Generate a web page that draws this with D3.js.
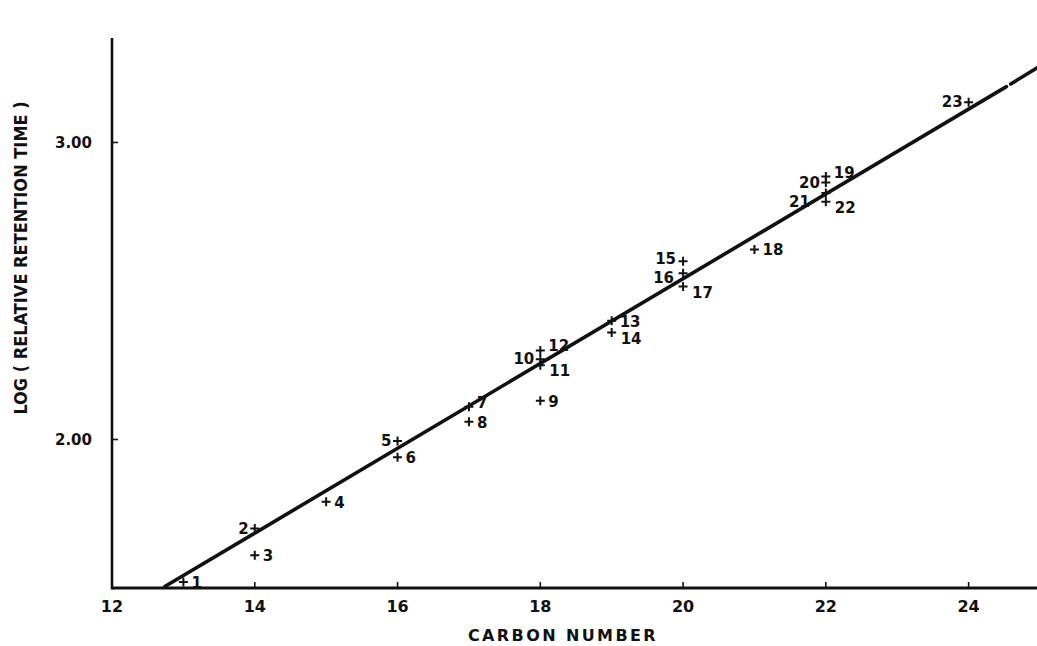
<!DOCTYPE html>
<html lang="en">
<head>
  <meta charset="UTF-8">
  <title>Log relative retention time vs carbon number</title>
  <script src="https://d3js.org/d3.v7.min.js"></script>
  <style>
    body { margin: 0; background: #fff; }
    svg { display: block; }
    .lbl { font-family: "DejaVu Sans", sans-serif; font-weight: bold; font-size: 15px; fill: #111; }
  </style>
</head>
<body>
  <svg width="1037" height="646"></svg>

  <script>
    // points
    const pointIds = [1, 2, 3, 4, 5, 6, 7, 8, 9, 10, 11, 12, 13, 14, 15, 16, 17, 18, 19, 20, 21, 22, 23];
    const carbon   = [13, 14, 14, 15, 16, 16, 17, 17, 18, 18, 18, 18, 19, 19, 20, 20, 20, 21, 22, 22, 22, 22, 24];
    const logRT    = [1.52, 1.70, 1.61, 1.79, 1.995, 1.94, 2.11, 2.06, 2.13, 2.27, 2.25, 2.30,
                      2.40, 2.36, 2.60, 2.56, 2.515, 2.64, 2.885, 2.865, 2.83, 2.80, 3.135];

    // the drawn straight line (two pieces, small break near the top)
    const lineCarbon = [[12.74, 24.53], [24.59, 25]];
    const lineLog    = [[1.505, 3.188], [3.197, 3.257]];

    const xTicks = [12, 14, 16, 18, 20, 22, 24];
    const yTicks = [2.00, 3.00];

    // where each number sits next to its cross
    const labelSide = {
      1: "r", 2: "l", 3: "r", 4: "r", 5: "l", 6: "r", 7: "ru", 8: "r", 9: "r",
      10: "l", 11: "rd", 12: "ru", 13: "r", 14: "rd", 15: "lu", 16: "ld", 17: "rd",
      18: "r", 19: "ru", 20: "l", 21: "lf", 22: "rd", 23: "l"
    };

    const svg = d3.select("svg");

    const x = d3.scaleLinear().domain([12, 25]).range([112, 1040]);
    const y = d3.scaleLinear().domain([1.5, 3.35]).range([588, 38.5]);

    const ink = "#111";

    // axes lines
    svg.append("line")
        .attr("x1", x(12)).attr("x2", 1037)
        .attr("y1", y(1.5)).attr("y2", y(1.5))
        .attr("stroke", ink).attr("stroke-width", 3);
    svg.append("line")
        .attr("x1", x(12)).attr("x2", x(12))
        .attr("y1", y(1.5) + 1.5).attr("y2", 38)
        .attr("stroke", ink).attr("stroke-width", 2.6);

    // x ticks + labels
    svg.append("g").selectAll("line")
        .data(xTicks.slice(1))
        .enter().append("line")
        .attr("x1", d => x(d)).attr("x2", d => x(d))
        .attr("y1", y(1.5)).attr("y2", y(1.5) - 6)
        .attr("stroke", ink).attr("stroke-width", 1.6);

    svg.append("g").selectAll("text")
        .data(xTicks)
        .enter().append("text")
        .attr("class", "lbl")
        .attr("x", d => x(d))
        .attr("y", 612)
        .attr("text-anchor", "middle")
        .style("font-size", "16px")
        .text(d => d);

    // y ticks + labels
    svg.append("g").selectAll("line")
        .data(yTicks)
        .enter().append("line")
        .attr("x1", x(12)).attr("x2", x(12) + 6)
        .attr("y1", d => y(d)).attr("y2", d => y(d))
        .attr("stroke", ink).attr("stroke-width", 1.6);

    svg.append("g").selectAll("text")
        .data(yTicks)
        .enter().append("text")
        .attr("class", "lbl")
        .attr("x", 92)
        .attr("y", d => y(d) + 6)
        .attr("text-anchor", "end")
        .style("font-size", "15px")
        .text(d => d3.format(".2f")(d));

    // axis titles
    svg.append("text")
        .attr("class", "lbl")
        .attr("transform", "translate(27," + 258 + ") rotate(-90)")
        .attr("text-anchor", "middle")
        .style("font-family", "'DejaVu Sans Condensed', sans-serif")
        .style("font-size", "18px")
        .text("LOG ( RELATIVE RETENTION TIME )");

    svg.append("text")
        .attr("class", "lbl")
        .attr("x", 563)
        .attr("y", 641)
        .attr("text-anchor", "middle")
        .style("font-size", "16px")
        .style("letter-spacing", "2.4px")
        .text("CARBON  NUMBER");

    // fitted line
    const lineGen = d3.line().x(d => x(d[0])).y(d => y(d[1]));
    svg.append("g").selectAll("path")
        .data(lineCarbon.map((c, i) => c.map((v, j) => [v, lineLog[i][j]])))
        .enter().append("path")
        .attr("d", lineGen)
        .attr("fill", "none")
        .attr("stroke", ink)
        .attr("stroke-width", 3.6)
        .attr("stroke-linecap", "round");

    // points
    const pts = pointIds.map((id, i) => ({ id: id, c: carbon[i], v: logRT[i] }));

    svg.append("g").selectAll("path")
        .data(pts)
        .enter().append("path")
        .attr("d", d => {
          const px = x(d.c), py = y(d.v), s = 4.5;
          return "M" + (px - s) + "," + py + "H" + (px + s) +
                 "M" + px + "," + (py - s) + "V" + (py + s);
        })
        .attr("stroke", ink)
        .attr("stroke-width", 2);

    const offs = {
      r:  [8, 6, "start"],
      ru: [8, 1, "start"],
      rd: [9, 11, "start"],
      l:  [-6, 5, "end"],
      lu: [-7, 3, "end"],
      ld: [-9, 10, "end"],
      lf: [-16, 14, "end"]
    };

    svg.append("g").selectAll("text")
        .data(pts)
        .enter().append("text")
        .attr("class", "lbl")
        .attr("x", d => x(d.c) + offs[labelSide[d.id]][0])
        .attr("y", d => y(d.v) + offs[labelSide[d.id]][1])
        .attr("text-anchor", d => offs[labelSide[d.id]][2])
        .text(d => d.id);
  </script>
</body>
</html>
